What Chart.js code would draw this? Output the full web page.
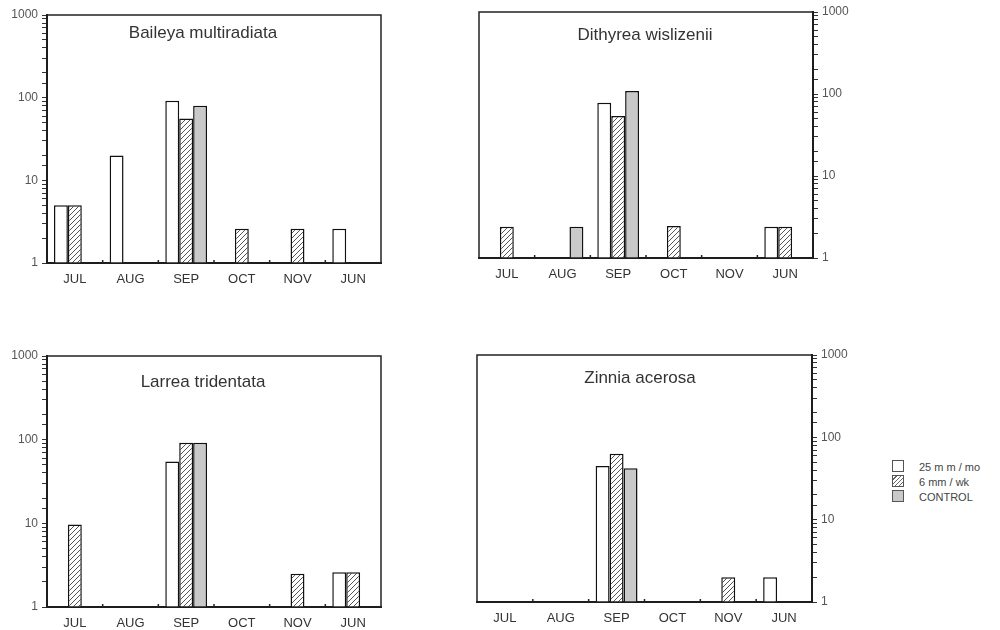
<!DOCTYPE html>
<html>
<head>
<meta charset="utf-8">
<script src="https://cdn.jsdelivr.net/npm/chart.js"></script>
<style>
  body { margin: 0; background: #fff; width: 1000px; height: 630px; position: relative; overflow: hidden;
         font-family: "Liberation Sans", Arial, sans-serif; }
  canvas { position: absolute; }
  #legend { position: absolute; left: 892px; top: 460px; font-size: 11px; color: #444; }
  #legend div { height: 15px; line-height: 15px; white-space: nowrap; }
  #legend span { display: inline-block; width: 10px; height: 10px; border: 1px solid #555; vertical-align: -1px; margin-right: 15px; }
</style>
</head>
<body>
<canvas id="c1" width="390" height="300" style="left:0;top:0"></canvas>
<canvas id="c2" width="420" height="300" style="left:440px;top:0"></canvas>
<canvas id="c3" width="390" height="290" style="left:0;top:340px"></canvas>
<canvas id="c4" width="420" height="290" style="left:440px;top:340px"></canvas>
<div id="legend"></div>

<script>
  const months = ['JUL', 'AUG', 'SEP', 'OCT', 'NOV', 'JUN'];
  const seriesNames = ['25 m m / mo', '6 mm / wk', 'CONTROL'];
  const yTicks = [1, 10, 100, 1000];

  const baileyaMonthly = [5, 20, 92, null, null, 2.6];
  const baileyaWeekly  = [5, null, 56, 2.6, 2.6, null];
  const baileyaControl = [null, null, 80, null, null, null];

  const dithyreaMonthly = [null, null, 78, null, null, 2.4];
  const dithyreaWeekly  = [2.4, null, 54, 2.45, null, 2.4];
  const dithyreaControl = [null, 2.4, 109, null, null, null];

  const larreaMonthly = [null, null, 55, null, null, 2.6];
  const larreaWeekly  = [9.7, null, 92, null, 2.5, 2.6];
  const larreaControl = [null, null, 92, null, null, null];

  const zinniaMonthly = [null, null, 45, null, null, 2.0];
  const zinniaWeekly  = [null, null, 63, null, 2.0, null];
  const zinniaControl = [null, null, 42, null, null, null];

  // hatch fill for the 6 mm / wk bars
  function hatch() {
    const c = document.createElement('canvas');
    c.width = 5; c.height = 5;
    const g = c.getContext('2d');
    g.fillStyle = '#fff';
    g.fillRect(0, 0, 5, 5);
    g.strokeStyle = '#555';
    g.lineWidth = 1;
    g.beginPath();
    g.moveTo(0, 5); g.lineTo(5, 0);
    g.moveTo(-1, 1); g.lineTo(1, -1);
    g.moveTo(4, 6); g.lineTo(6, 4);
    g.stroke();
    return g.createPattern(c, 'repeat');
  }
  const hatchFill = hatch();
  const fills = ['#fff', hatchFill, '#c9c9c9'];

  const panelFrame = {
    id: 'panelFrame',
    afterDraw(chart, args, opts) {
      const { ctx, chartArea: a } = chart;
      const x = chart.scales.x;
      ctx.save();
      ctx.strokeStyle = '#222';
      ctx.lineWidth = 1.5;
      ctx.strokeRect(a.left, a.top, a.right - a.left, a.bottom - a.top);
      for (let i = 1; i < months.length; i++) {
        const bx = (x.getPixelForValue(i - 1) + x.getPixelForValue(i)) / 2;
        ctx.beginPath();
        ctx.moveTo(bx, a.bottom);
        ctx.lineTo(bx, a.bottom - 3);
        ctx.stroke();
      }
      ctx.fillStyle = '#333';
      ctx.font = '17px "Liberation Sans", Arial, sans-serif';
      ctx.textAlign = 'center';
      ctx.textBaseline = 'middle';
      ctx.fillText(opts.text, opts.x, opts.y);
      ctx.restore();
    }
  };

  function makePanel(id, title, series, side, geo) {
    new Chart(document.getElementById(id), {
      type: 'bar',
      data: {
        labels: months,
        datasets: series.map((d, i) => ({
          label: seriesNames[i],
          data: d,
          backgroundColor: fills[i],
          borderColor: '#111',
          borderWidth: 1.5,
          categoryPercentage: 0.75,
          barPercentage: 1.0
        }))
      },
      options: {
        responsive: false,
        animation: false,
        layout: { padding: geo.pad },
        plugins: {
          legend: { display: false },
          tooltip: { enabled: false },
          panelFrame: { text: title, x: geo.tx, y: geo.ty }
        },
        scales: {
          x: {
            afterFit: s => { s.height = geo.xh; },
            grid: { display: false, drawTicks: false },
            border: { display: true, color: '#111', width: 2 },
            ticks: { color: '#333', padding: 9, font: { size: 13, family: '"Liberation Sans", Arial, sans-serif' } }
          },
          y: {
            type: 'logarithmic',
            position: side,
            min: 1,
            max: 1000,
            afterFit: s => { s.width = geo.yw; },
            grid: { drawOnChartArea: false, drawTicks: true, tickLength: 5, color: '#333' },
            border: { display: true, color: '#111', width: 2 },
            ticks: {
              autoSkip: false,
              padding: 4,
              color: '#555',
              font: { size: 12, family: '"Liberation Sans", Arial, sans-serif' },
              callback: v => yTicks.includes(Math.round(v)) && Math.abs(v - Math.round(v)) < 1e-6 ? String(Math.round(v)) : ''
            }
          }
        }
      },
      plugins: [panelFrame]
    });
  }

  makePanel('c1', 'Baileya multiradiata', [baileyaMonthly, baileyaWeekly, baileyaControl], 'left',
    { pad: { top: 15, right: 9, left: 0, bottom: 0 }, yw: 47, xh: 37, tx: 203, ty: 33 });
  makePanel('c2', 'Dithyrea wislizenii', [dithyreaMonthly, dithyreaWeekly, dithyreaControl], 'right',
    { pad: { top: 12, right: 0, left: 39, bottom: 0 }, yw: 47, xh: 42, tx: 205, ty: 35 });
  makePanel('c3', 'Larrea tridentata', [larreaMonthly, larreaWeekly, larreaControl], 'left',
    { pad: { top: 16, right: 9, left: 0, bottom: 0 }, yw: 47, xh: 23, tx: 203, ty: 42 });
  makePanel('c4', 'Zinnia acerosa', [zinniaMonthly, zinniaWeekly, zinniaControl], 'right',
    { pad: { top: 15, right: 0, left: 37, bottom: 0 }, yw: 48, xh: 28, tx: 200, ty: 38 });

  const legendFills = ['#fff', 'repeating-linear-gradient(135deg, #fff 0 2px, #666 2px 3px) #fff', '#c9c9c9'];
  document.getElementById('legend').innerHTML = seriesNames
    .map((n, i) => `<div><span style="background:${legendFills[i]}"></span>${n}</div>`).join('');
</script>
</body>
</html>
